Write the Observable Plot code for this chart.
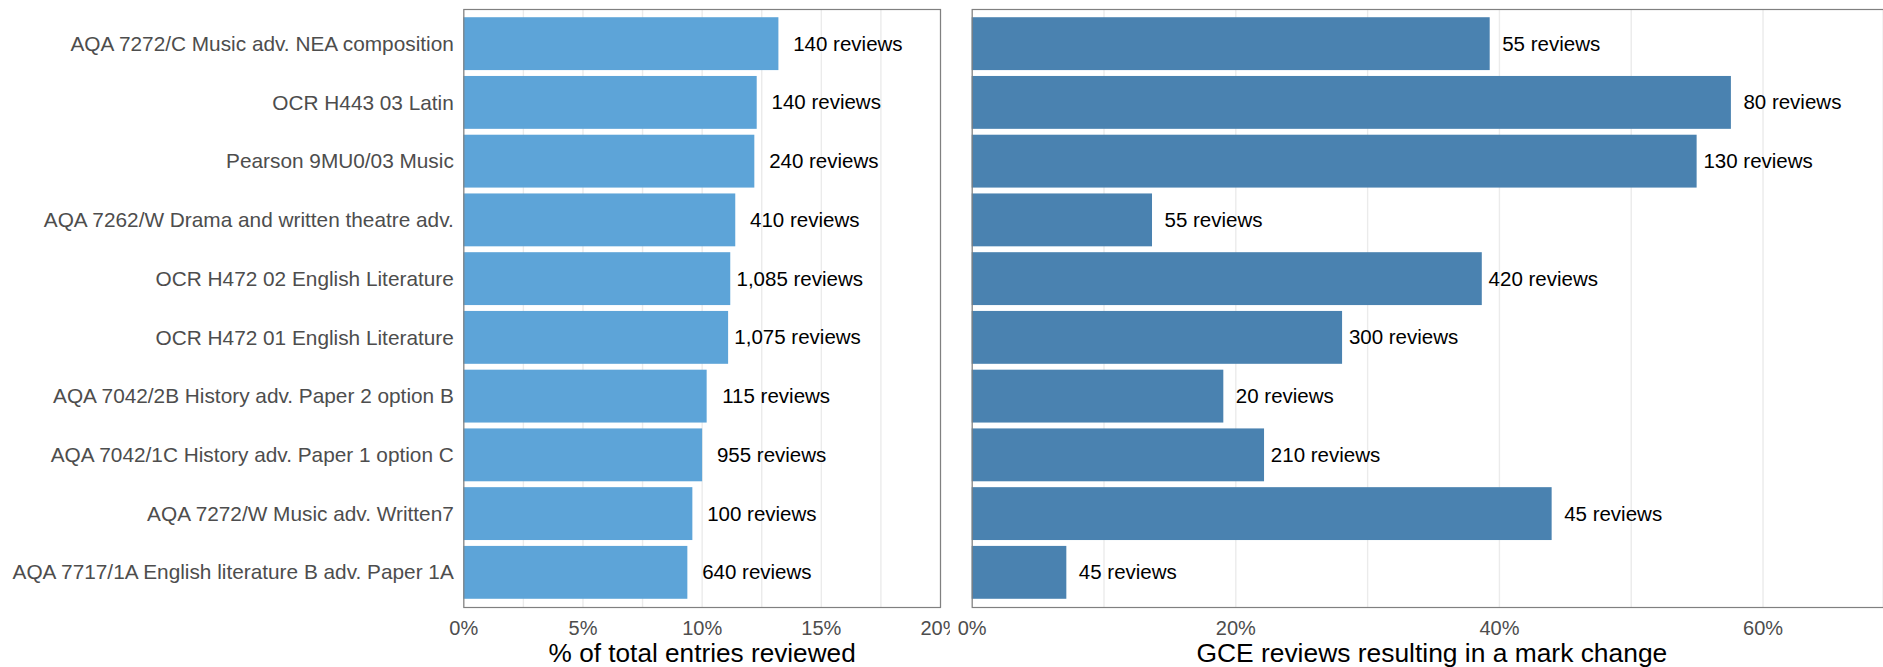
<!DOCTYPE html>
<html>
<head>
<meta charset="utf-8">
<script src="https://cdn.jsdelivr.net/npm/d3@7"></script>
<script src="https://cdn.jsdelivr.net/npm/@observablehq/plot@0.6"></script>
<style>
  html, body { margin: 0; padding: 0; background: #fff; }
  #wrap { position: relative; width: 1883px; height: 667px; overflow: hidden; font-family: "Liberation Sans", Arial, Helvetica, sans-serif; }
  #left, #right { position: absolute; top: 0; }
  #left { left: 0; }
  #right { left: 950px; }
  svg { overflow: hidden; }
</style>
</head>
<body>
<div id="wrap"><div id="left"></div><div id="right"></div></div>
<script>
// ---- data ----
const components = [
  "AQA 7272/C Music adv. NEA composition",
  "OCR H443 03 Latin",
  "Pearson 9MU0/03 Music",
  "AQA 7262/W Drama and written theatre adv.",
  "OCR H472 02 English Literature",
  "OCR H472 01 English Literature",
  "AQA 7042/2B History adv. Paper 2 option B",
  "AQA 7042/1C History adv. Paper 1 option C",
  "AQA 7272/W Music adv. Written7",
  "AQA 7717/1A English literature B adv. Paper 1A"
];
const shareReviewed = [0.1322, 0.1231, 0.1221, 0.1141, 0.1120, 0.1111, 0.1021, 0.1002, 0.0961, 0.0940];
const reviewsCount = ["140", "140", "240", "410", "1,085", "1,075", "115", "955", "100", "640"];
const shareChanged = [0.393, 0.576, 0.550, 0.1368, 0.387, 0.281, 0.1909, 0.2218, 0.440, 0.0718];
const changedCount = ["55", "80", "130", "55", "420", "300", "20", "210", "45", "45"];

const leftTicks = [0, 0.05, 0.10, 0.15, 0.20];
const leftGrid = [0, 0.025, 0.05, 0.075, 0.10, 0.125, 0.15, 0.175, 0.20];
const rightTicks = [0, 0.2, 0.4, 0.6];
const rightGrid = [0, 0.1, 0.2, 0.3, 0.4, 0.5, 0.6];
const leftDomain = [0, 0.20];
const rightDomain = [0, 0.6914];
const leftTitle = "% of total entries reviewed";
const rightTitle = "GCE reviews resulting in a mark change";

const leftData = components.map((name, i) => ({name, value: shareReviewed[i], label: reviewsCount[i] + " reviews"}));
const rightData = components.map((name, i) => ({name, value: shareChanged[i], label: changedCount[i] + " reviews"}));

const font = '"Liberation Sans", Arial, Helvetica, sans-serif';
const pct = d3.format(".0%");
const H = 667, TOP = 9, BOTTOM = 60;

const leftPlot = Plot.plot({
  width: 950, height: H,
  marginLeft: 463.3, marginRight: 10, marginTop: TOP, marginBottom: BOTTOM,
  style: {fontFamily: font, background: "#fff", overflow: "hidden"},
  x: {domain: leftDomain},
  y: {domain: components, paddingInner: 0.1, paddingOuter: 0.14, round: false},
  marks: [
    Plot.gridX(leftGrid, {stroke: "#ebebeb", strokeOpacity: 1, strokeWidth: 1.4}),
    Plot.barX(leftData, {x: "value", y: "name", fill: "#5DA4D8"}),
    Plot.text(leftData, {x: "value", y: "name", text: "label", dx: 69, textAnchor: "middle", fontSize: 20.5, fill: "#000"}),
    Plot.frame({stroke: "#808080", strokeWidth: 1.2}),
    Plot.axisY({tickSize: 0, tickPadding: 10, fontSize: 20.8, fill: "#4d4d4d", label: null}),
    Plot.axisX({ticks: leftTicks, tickFormat: pct, tickSize: 0, tickPadding: 13, fontSize: 20, fill: "#4d4d4d", label: null}),
    Plot.text([leftTitle], {frameAnchor: "bottom", lineAnchor: "middle", dy: 46, fontSize: 26.2, fill: "#000"})
  ]
});

const rightPlot = Plot.plot({
  width: 933, height: H,
  marginLeft: 21.7, marginRight: 0, marginTop: TOP, marginBottom: BOTTOM,
  style: {fontFamily: font, background: "#fff", overflow: "hidden"},
  x: {domain: rightDomain},
  y: {domain: components, paddingInner: 0.1, paddingOuter: 0.14, round: false, axis: null},
  marks: [
    Plot.gridX(rightGrid, {stroke: "#ebebeb", strokeOpacity: 1, strokeWidth: 1.4}),
    Plot.barX(rightData, {x: "value", y: "name", fill: "#4A82B0"}),
    Plot.text(rightData, {x: "value", y: "name", text: "label", dx: 61, textAnchor: "middle", fontSize: 20.5, fill: "#000"}),
    Plot.frame({stroke: "#808080", strokeWidth: 1.2}),
    Plot.axisX({ticks: rightTicks, tickFormat: pct, tickSize: 0, tickPadding: 13, fontSize: 20, fill: "#4d4d4d", label: null}),
    Plot.text([rightTitle], {frameAnchor: "bottom", lineAnchor: "middle", dy: 46, dx: 4, fontSize: 26.4, fill: "#000"})
  ]
});

document.getElementById("left").appendChild(leftPlot);
document.getElementById("right").appendChild(rightPlot);
</script>
</body>
</html>
